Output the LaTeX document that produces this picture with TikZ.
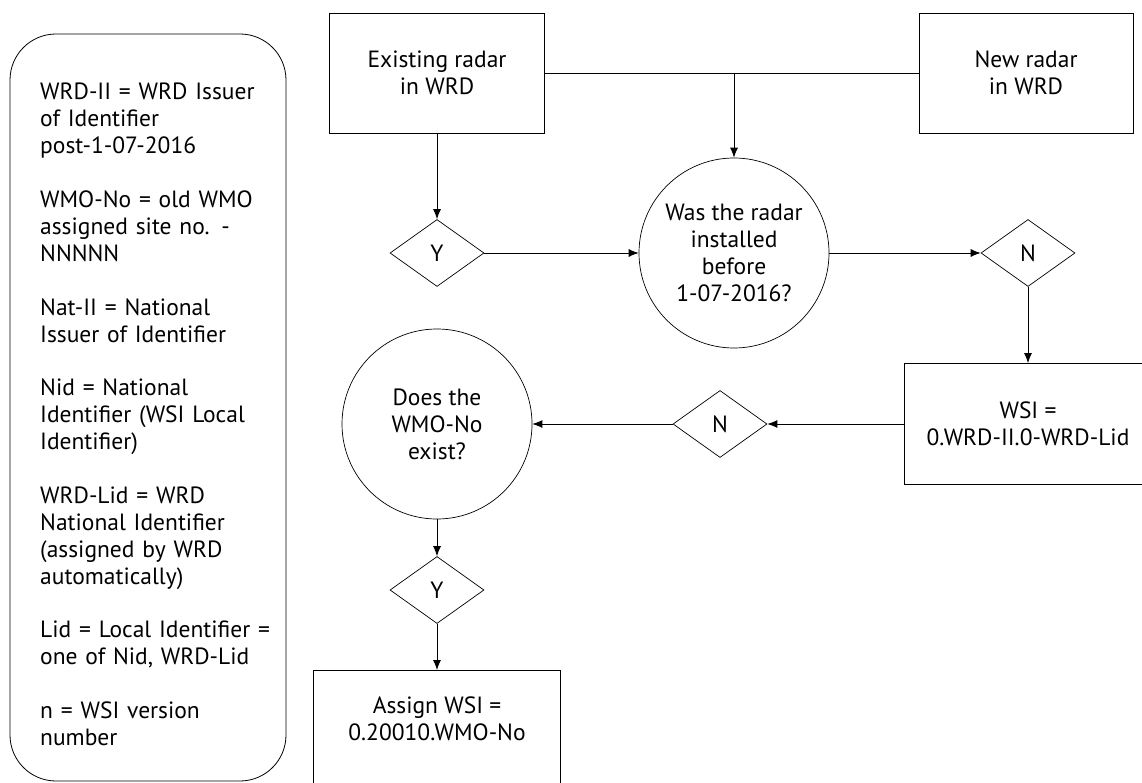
\documentclass[tikz,border=0pt]{standalone}
\usepackage{fontspec}
\setmainfont{PT Sans}
\usetikzlibrary{shapes.geometric,arrows.meta}
\tikzset{
  flowbox/.style={draw,line width=.8pt,align=center,minimum width=215pt,minimum height=120pt,inner sep=0pt},
  question/.style={draw,circle,line width=.7pt,align=center,minimum size=190pt,inner sep=0pt},
  answer/.style={draw,diamond,line width=.7pt,minimum width=94pt,minimum height=67pt,inner sep=0pt},
  flow/.style={->,line width=.8pt}
}

\begin{document}
\begin{tikzpicture}[x=1pt,y=1pt,font=\fontsize{23.5}{26.9}\selectfont,>={Latex[length=10pt,width=8pt]}]
\useasboundingbox (0,0) rectangle (1142,-783);
% legend
\draw[line width=.8pt,rounded corners=46pt] (10,-34) rectangle (286,-781);
\node[anchor=base west,text width=245pt,align=left,inner sep=0pt] (legend) at (40,-100)
  {WRD-II = WRD Issuer\\of Identifier\\post-1-07-2016\\[26.9pt]
   WMO-No = old WMO\\assigned site no. -\\NNNNN\\[26.9pt]
   Nat-II = National\\Issuer of Identifier\\[26.9pt]
   Nid = National\\Identifier (WSI Local\\Identifier)\\[26.9pt]
   WRD-Lid = WRD\\National Identifier\\(assigned by WRD\\automatically)\\[26.9pt]
   Lid = Local Identifier =\\one of Nid, WRD-Lid\\[26.9pt]
   n = WSI version\\number};

% top row
\node[flowbox] (exist) at (437,-73) {Existing radar\\in WRD};
\node[flowbox,minimum width=214pt] (new) at (1026,-73) {New radar\\in WRD};
\node[answer] (yes1) at (437,-253) {Y};
\node[question] (installed) at (734,-253) {Was the radar\\installed\\before\\1-07-2016?};
\node[answer] (no1) at (1028,-253) {N};

% second row
\node[flowbox,minimum width=247pt,minimum height=121pt] (wsi) at (1028,-424) {WSI =\\0.WRD-II.0-WRD-Lid};
\node[answer] (no2) at (720,-424) {N};
\node[question] (exists) at (437,-424) {Does the\\WMO-No\\exist?};
\node[answer] (yes2) at (437,-590) {Y};
\node[flowbox,minimum width=247pt,minimum height=130pt,anchor=north,text depth=34pt] (assign) at (437,-670) {Assign WSI =\\0.20010.WMO-No};

\coordinate (split) at (734,-73);
\draw[line width=.8pt] (exist.east) -- (new.west);
\draw[flow] (split) -- (installed.north);
\draw[flow] (exist) -- (yes1);
\draw[flow] (yes1) -- (installed);
\draw[flow] (installed) -- (no1);
\draw[flow] (no1) -- (wsi);
\draw[flow] (wsi) -- (no2);
\draw[flow] (no2) -- (exists);
\draw[flow] (exists) -- (yes2);
\draw[flow] (yes2) -- (assign);
\end{tikzpicture}
\end{document}
